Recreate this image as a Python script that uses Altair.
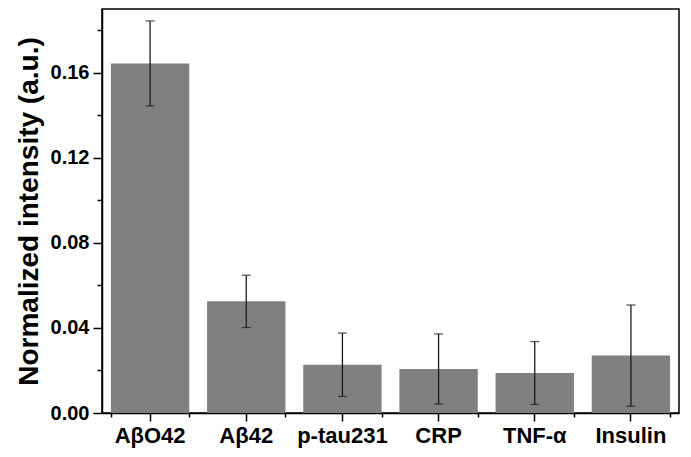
import altair as alt
import pandas as pd

cats = ["AβO42", "Aβ42", "p-tau231", "CRP", "TNF-α", "Insulin"]
values = [0.1644, 0.0525, 0.0227, 0.0207, 0.0188, 0.0270]
errors = [0.0200, 0.0123, 0.0149, 0.0165, 0.0148, 0.0238]
y_major_ticks = [0.0, 0.04, 0.08, 0.12, 0.16]
y_minor_ticks = [0.02, 0.06, 0.10, 0.14, 0.18]

df = pd.DataFrame({"cat": cats, "value": values, "err": errors})
df["lo"] = df["value"] - df["err"]
df["hi"] = df["value"] + df["err"]

FONT = "Liberation Sans"
xscale = alt.Scale(domain=cats, paddingInner=0.185, paddingOuter=0.0925)
yscale = alt.Scale(domain=[0, 0.19], nice=False, zero=True)

x_major = alt.Axis(orient="bottom", title=None, labelAngle=0, labelFont=FONT,
                   labelFontSize=22, labelFontWeight="bold", labelColor="black",
                   tickSize=8, tickWidth=1.5, tickColor="black",
                   domainColor="black", domainWidth=1.5, labelPadding=4, grid=False)
x_minor = alt.Axis(orient="bottom", title=None, labels=False, tickBand="extent",
                   tickSize=4, tickWidth=1.5, tickColor="black", domain=False, grid=False)
y_major = alt.Axis(orient="left", title="Normalized intensity (a.u.)",
                   values=y_major_ticks, format=".2f", labelFont=FONT,
                   labelFontSize=20, labelFontWeight="bold", labelColor="black",
                   tickSize=9, tickWidth=1.5, tickColor="black",
                   domainColor="black", domainWidth=1.5, labelPadding=4,
                   titleFont=FONT, titleFontSize=28, titleFontWeight="bold",
                   titleColor="black", titlePadding=7, grid=False)
y_minor = alt.Axis(orient="left", title=None, labels=False, values=y_minor_ticks,
                   tickSize=5, tickWidth=1.5, tickColor="black", domain=False, grid=False)

bars = alt.Chart(df).mark_bar(color="#808080").encode(
    x=alt.X("cat:N", scale=xscale, axis=x_major),
    y=alt.Y("value:Q", scale=yscale, axis=y_major),
)
minor = alt.Chart(df).mark_bar(opacity=0).encode(
    x=alt.X("cat:N", scale=xscale, axis=x_minor),
    y=alt.Y("value:Q", scale=yscale, axis=y_minor),
)
rules = alt.Chart(df).mark_rule(color="#1a1a1a", strokeWidth=1.3).encode(
    x=alt.X("cat:N", scale=xscale, axis=None),
    y=alt.Y("lo:Q", scale=yscale, axis=None),
    y2="hi:Q",
)
caps = alt.Chart(df).transform_fold(["lo", "hi"], as_=["k", "v"]).mark_tick(
    color="#1a1a1a", thickness=1.3, size=9
).encode(
    x=alt.X("cat:N", scale=xscale, axis=None),
    y=alt.Y("v:Q", scale=yscale, axis=None),
)

chart = alt.layer(bars, minor, rules, caps).resolve_axis(
    x="independent", y="independent"
).properties(
    width=577, height=404,
    autosize=alt.AutoSizeParams(type="none"),
    padding={"left": 94, "top": 1, "right": 3, "bottom": 44},
).configure_view(stroke="black", strokeWidth=1.5)

chart.save("out.html", embed_options={"renderer": "svg", "actions": False})
